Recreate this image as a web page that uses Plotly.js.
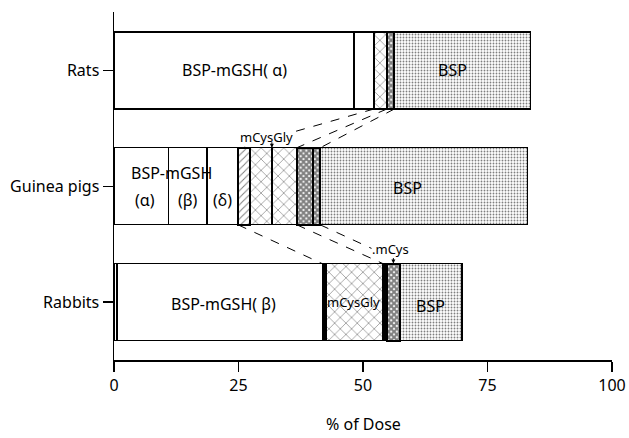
<!DOCTYPE html>
<html><head><meta charset="utf-8">
<script src="https://cdn.plot.ly/plotly-3.0.1.min.js"></script>
<style>html,body{margin:0;padding:0;background:#fff}#chart{width:629px;height:438px}</style>
</head><body><div id="chart"></div>
<script>
// categories (bottom to top)
const categories = ['Rabbits', 'Guinea pigs', 'Rats'];
const xTickVals = [0, 25, 50, 75, 100];
const xTickText = ['0', '25', '50', '75', '100'];

// segment widths (% of dose), left to right; null = segment absent in that species
const lead      = [0.6, null, null];
const mGSHa     = [null, 11.0, 48.2];
const mGSHb     = [41.2, 7.7, null];
const mGSHd     = [null, 6.2, 4.0];
const sepA      = [0.8, null, null];
const mCysGlyA  = [null, 2.4, null];
const mCysGlyB  = [11.4, 4.4, 2.6];
const mCysGlyC  = [null, 5.0, null];
const sepB      = [0.8, null, null];
const mCysA     = [2.6, 3.3, 1.5];
const mCysB     = [null, 1.4, null];
const bsp       = [12.5, 41.7, 27.4];

const segments = [
  {name: 'lead', v: lead, style: 'white'},
  {name: 'mGSHa', v: mGSHa, style: 'white'},
  {name: 'mGSHb', v: mGSHb, style: 'white'},
  {name: 'mGSHd', v: mGSHd, style: 'white'},
  {name: 'sepA', v: sepA, style: 'black'},
  {name: 'mCysGlyA', v: mCysGlyA, style: 'hatch1'},
  {name: 'mCysGlyB', v: mCysGlyB, style: 'hatch'},
  {name: 'mCysGlyC', v: mCysGlyC, style: 'hatch'},
  {name: 'sepB', v: sepB, style: 'black'},
  {name: 'mCysA', v: mCysA, style: 'dense'},
  {name: 'mCysB', v: mCysB, style: 'dense'},
  {name: 'bsp', v: bsp, style: 'dots'}
];

const yPos = categories.map((c, i) => i);
const barW = 0.665;
const half = barW / 2;

function styleMarker(s) {
  const line = {color: '#000', width: 1.3};
  if (s === 'white') return {color: '#fff', line};
  if (s === 'black') return {color: '#000', line};
  if (s === 'hatch1') return {color: '#fff', line: {color: '#000', width: 2}, pattern: {shape: '/', size: 5, solidity: 0.2, fgcolor: '#000', bgcolor: '#fff', fillmode: 'overlay'}};
  if (s === 'hatch') return {color: '#fff', line, pattern: {shape: 'x', size: 8, solidity: 0.16, fgcolor: '#000', bgcolor: '#fff', fillmode: 'overlay'}};
  if (s === 'dense') return {color: '#fff', line: {color: '#000', width: 2}, pattern: {shape: 'x', size: 4, solidity: 0.78, fgcolor: '#000', bgcolor: '#fff', fillmode: 'overlay'}};
  if (s === 'dots') return {color: '#fff', line, pattern: {shape: '.', size: 3, solidity: 0.3, fgcolor: '#000', bgcolor: '#fff', fillmode: 'overlay'}};
}

const traces = segments.map(seg => ({
  type: 'bar', orientation: 'h', y: yPos, x: seg.v, width: barW,
  marker: styleMarker(seg.style), hoverinfo: 'skip', showlegend: false
}));

// cumulative right edge of a segment in a category
function edge(cat, segName) {
  let s = 0;
  for (const seg of segments) {
    const v = seg.v[cat];
    if (v != null) s += v;
    if (seg.name === segName) return s;
  }
  return s;
}

const R = 2, G = 1, B = 0;
const dash = {color: '#000', width: 1, dash: 'dash'};
const connectors = [
  [edge(R, 'mGSHd'), R - half, edge(G, 'mGSHd'), G + half],
  [edge(R, 'mCysGlyB'), R - half, edge(G, 'mCysGlyC'), G + half],
  [edge(R, 'mCysA'), R - half, edge(G, 'mCysB'), G + half],
  [edge(G, 'mGSHd'), G - half, edge(B, 'mGSHb'), B + half],
  [edge(G, 'mCysGlyC'), G - half, edge(B, 'mCysGlyB'), B + half],
  [edge(G, 'mCysB'), G - half, 52.4, B + 0.45]
];
const shapes = connectors.map(c => ({type: 'line', xref: 'x', yref: 'y', x0: c[0], y0: c[1], x1: c[2], y1: c[3], line: dash, layer: 'above'}));

const F = 'Noto Sans, Lato, sans-serif';
const big = {family: F, size: 16, color: '#000'};
const small = {family: F, size: 13, color: '#000'};
const annotations = [
  {x: 24.1, y: R, text: 'BSP-mGSH( α)', font: big},
  {x: 68, y: R, text: 'BSP', font: big},
  {x: 11.5, y: G, yshift: 13, text: 'BSP-mGSH', font: big},
  {x: 6.3, y: G, yshift: -14, text: '(α)', font: big},
  {x: 14.8, y: G, yshift: -14, text: '(β)', font: big},
  {x: 21.7, y: G, yshift: -14, text: '(δ)', font: big},
  {x: 59, y: G, yshift: -2, text: 'BSP', font: big},
  {x: 21.9, y: B, yshift: -2, text: 'BSP-mGSH( β)', font: big},
  {x: 48, y: B, text: 'mCysGly', font: small},
  {x: 63.6, y: B, yshift: -4, text: 'BSP', font: big},
  {x: 30.7, y: G + half, yshift: 11, text: 'mCysGly', font: small, bgcolor: '#fff', borderpad: 0},
  {x: 55.6, y: B + half, yshift: 15, text: '.mCys', font: small, bgcolor: '#fff', borderpad: 0},
  {x: edge(G, 'mCysGlyB'), y: G + half, text: '', showarrow: true, ax: 0, ay: -7, arrowhead: 2, arrowsize: 0.8, arrowwidth: 1, arrowcolor: '#000'},
  {x: edge(B, 'mCysB') - mCysA[B] / 2 , y: B + half, text: '', showarrow: true, ax: 0, ay: -7, arrowhead: 2, arrowsize: 0.8, arrowwidth: 1, arrowcolor: '#000'}
].map(a => Object.assign({xref: 'x', yref: 'y', showarrow: false}, a));

// x-axis title placed as paper annotation near the bottom edge
annotations.push({xref: 'paper', yref: 'paper', x: 0.5, y: -0.219, yanchor: 'bottom', showarrow: false,
  text: '% of Dose', font: big, borderpad: 0});

const layout = {
  width: 629, height: 438,
  margin: {l: 114, r: 17, t: 12, b: 78},
  paper_bgcolor: '#fff', plot_bgcolor: '#fff',
  barmode: 'stack', bargap: 0,
  font: {family: F, size: 16, color: '#000'},
  xaxis: {
    range: [0, 100], tickvals: xTickVals, ticktext: xTickText,
    showgrid: false, zeroline: false, showline: true, linecolor: '#000', linewidth: 1.5,
    ticks: 'outside', ticklen: 10, tickwidth: 1.5, tickcolor: '#000',
    tickfont: {family: F, size: 16, color: '#000'}
  },
  yaxis: {
    range: [-0.5, 2.505], tickvals: yPos, ticktext: categories,
    showgrid: false, zeroline: false, showline: true, linecolor: '#000', linewidth: 1.5,
    ticks: 'outside', ticklen: 10, tickwidth: 1.5, tickcolor: '#000',
    tickfont: {family: F, size: 16, color: '#000'}
  },
  shapes, annotations
};

Plotly.newPlot('chart', traces, layout, {displayModeBar: false, staticPlot: true});
</script></body></html>
